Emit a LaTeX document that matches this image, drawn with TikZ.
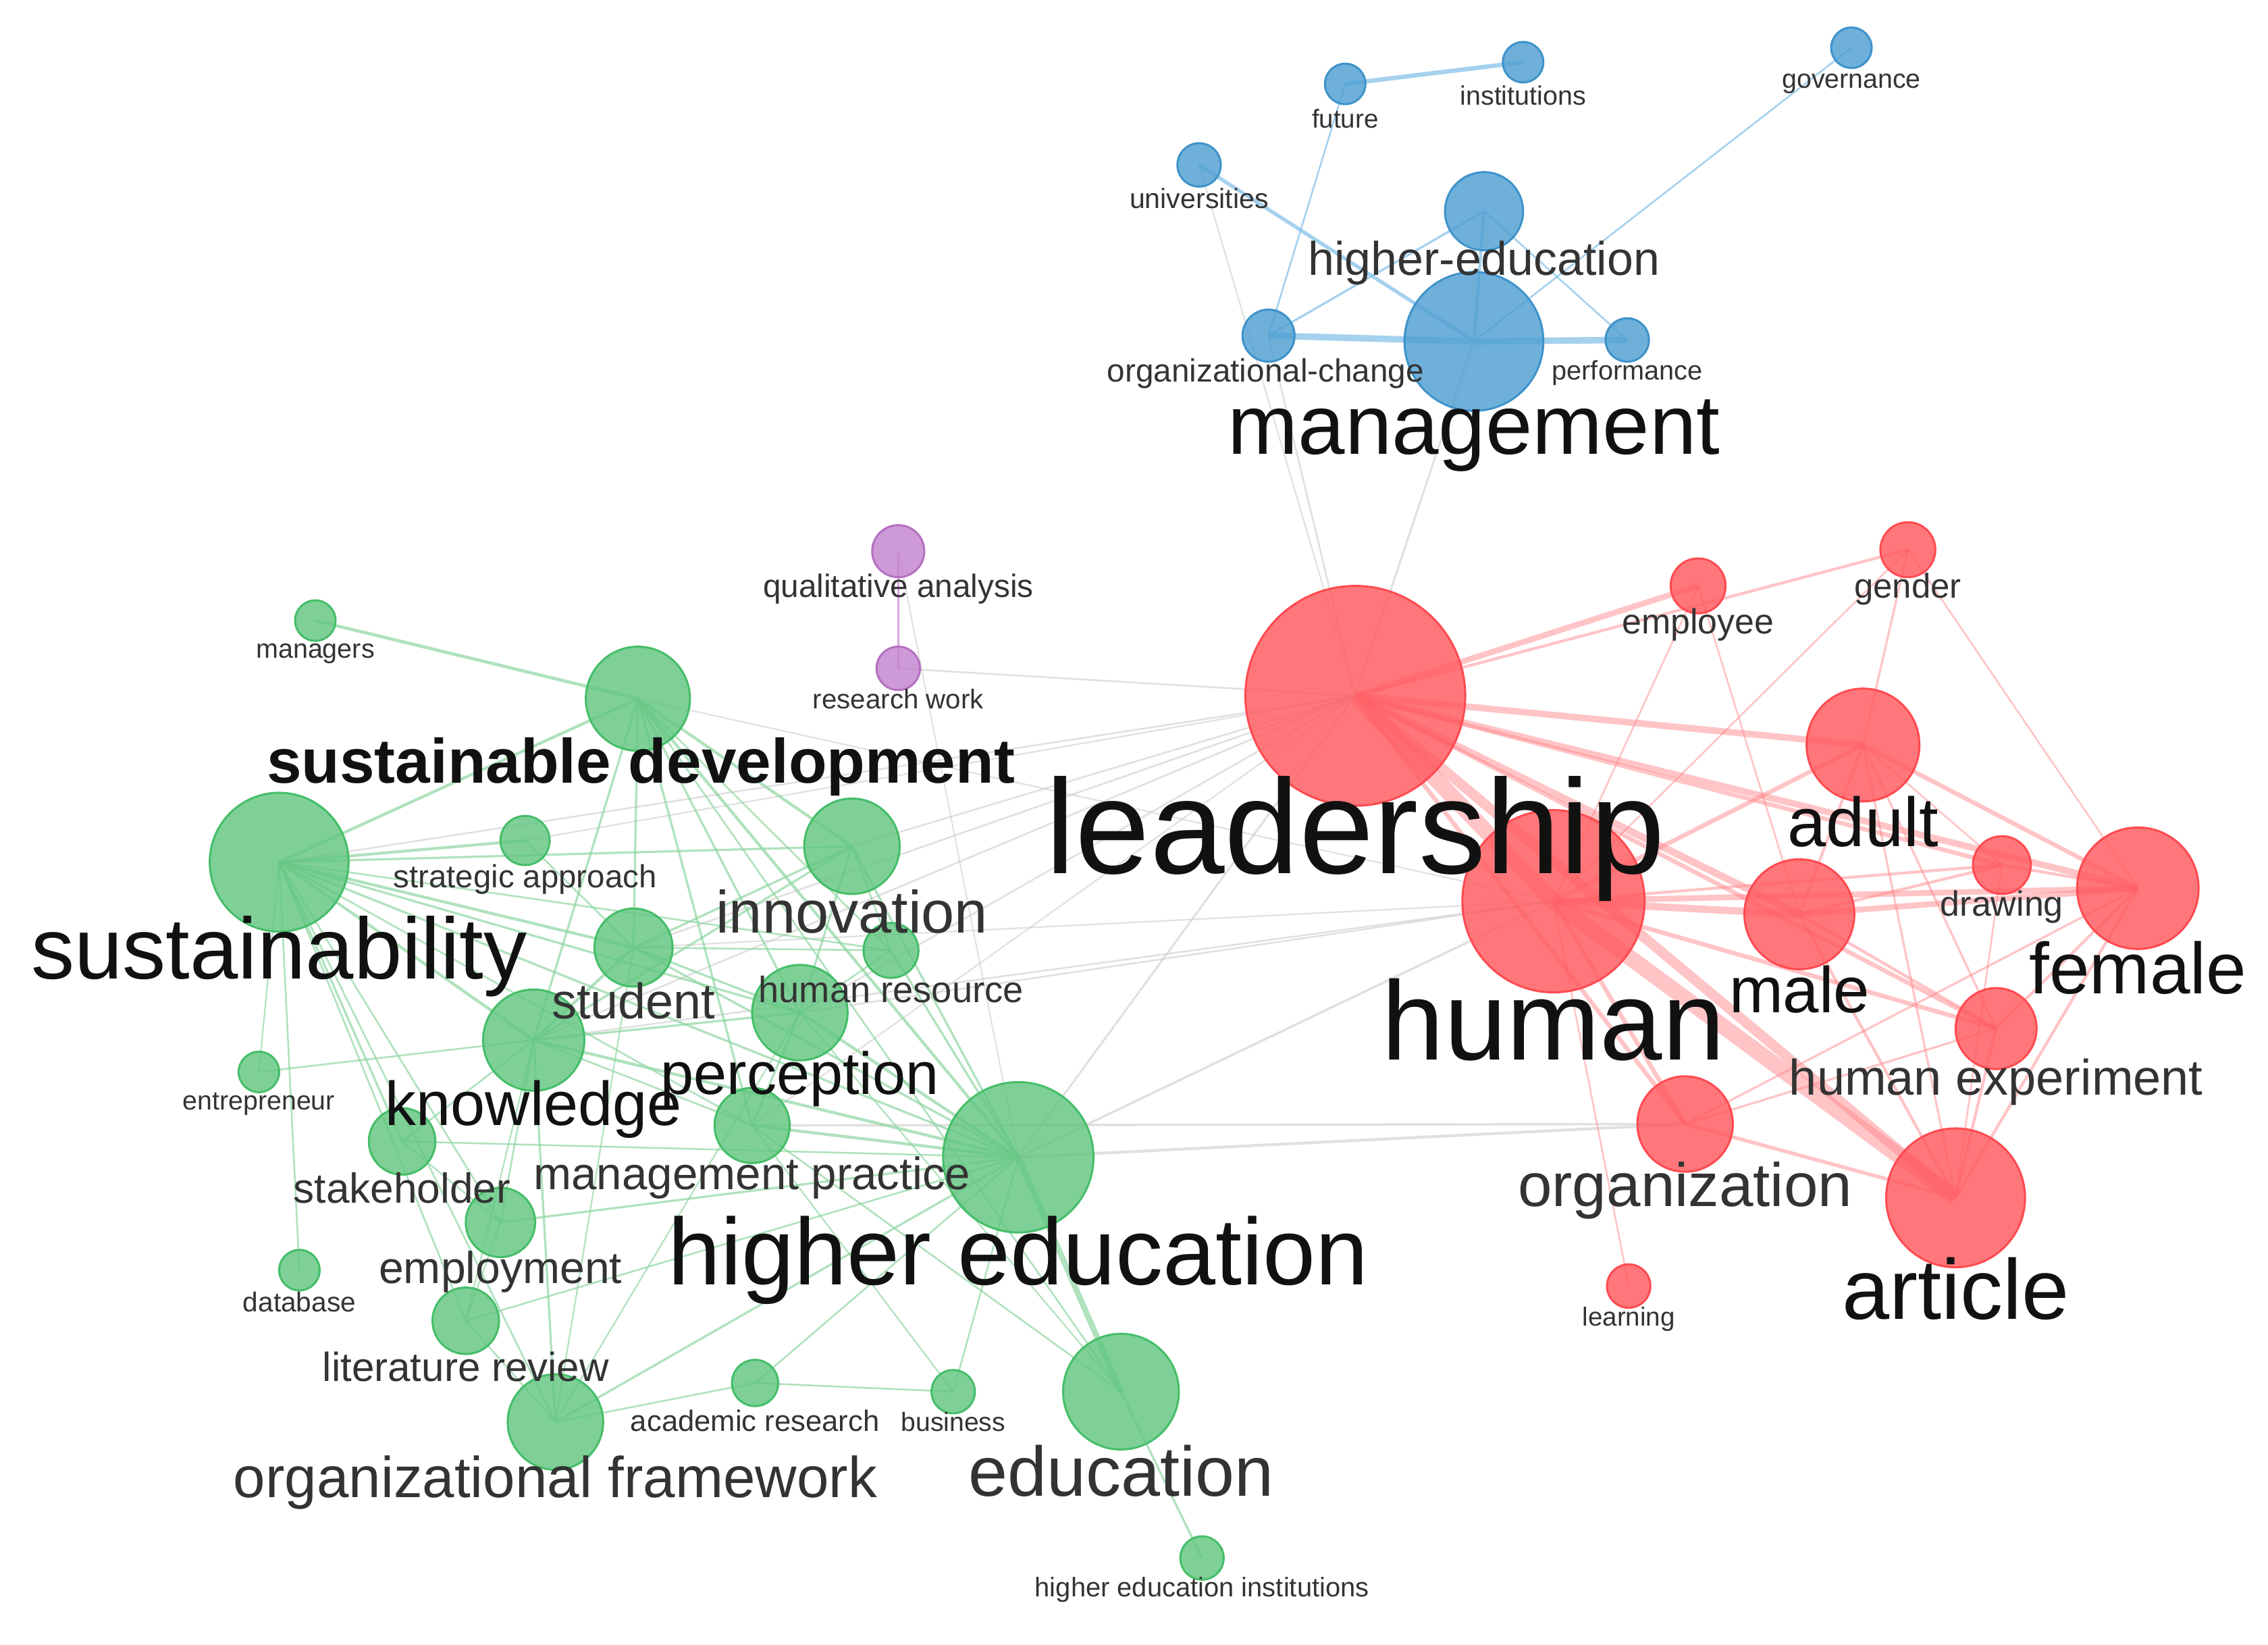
\documentclass[tikz,border=0pt]{standalone}
\usepackage{fontspec}
\usepackage{graphicx}
\setmainfont{Liberation Sans}
\usetikzlibrary{backgrounds}
\definecolor{gfill}{HTML}{62C681}
\definecolor{gline}{HTML}{45BE68}
\definecolor{rfill}{HTML}{FF5A5F}
\definecolor{rline}{HTML}{FF4A50}
\definecolor{bfill}{HTML}{4F9FD2}
\definecolor{bline}{HTML}{3E92CA}
\definecolor{pfill}{HTML}{C383CE}
\definecolor{pline}{HTML}{B470C0}
\definecolor{gedgec}{HTML}{8ED6A2}
\definecolor{redgec}{HTML}{FF8A8E}
\definecolor{bedgec}{HTML}{8EC6EA}
\definecolor{xedgec}{HTML}{C8C8C8}
\definecolor{pedgec}{HTML}{D8A6E0}
\definecolor{labdark}{HTML}{111111}
\definecolor{labgray}{HTML}{333333}
\newcommand\lbl[5]{\node[lab,#5] (#1) at (#2) {\resizebox{#3pt}{!}{#4}};}
\begin{document}
\begin{tikzpicture}[x=1pt,y=-1pt,
  kw/.style={circle,inner sep=0pt,minimum size=#1pt,line width=1.4pt,fill opacity=0.82},
  gn/.style={kw=#1,fill=gfill,draw=gline},
  rn/.style={kw=#1,fill=rfill,draw=rline},
  bn/.style={kw=#1,fill=bfill,draw=bline},
  pn/.style={kw=#1,fill=pfill,draw=pline},
  lab/.style={inner sep=0pt,text=labgray},
  big/.style={text=labdark},
  ge/.style={draw=gedgec,line width=#1pt,draw opacity=0.7},
  re/.style={draw=redgec,line width=#1pt,draw opacity=0.5},
  be/.style={draw=bedgec,line width=#1pt,draw opacity=0.8},
  xe/.style={draw=xedgec,line width=#1pt,draw opacity=0.55},
  pe/.style={draw=pedgec,line width=#1pt},
]
\useasboundingbox (0,0) rectangle (1568,1137);
% ---------- nodes: blue ----------
\node[bn=28] (fut) at (930,58) {};
\node[bn=28] (ins) at (1053,43) {};
\node[bn=28] (gov) at (1280,33) {};
\node[bn=30] (uni) at (829,114) {};
\node[bn=54] (hed) at (1026,146) {};
\node[bn=96] (man) at (1019,236) {};
\node[bn=36] (orc) at (877,232) {};
\node[bn=30] (per) at (1125,235) {};
% ---------- purple ----------
\node[pn=36] (qua) at (621,381) {};
\node[pn=30] (res) at (621,462) {};
% ---------- green ----------
\node[gn=28] (mgr) at (218,429) {};
\node[gn=72] (sd) at (441,483) {};
\node[gn=96] (sus) at (193,596) {};
\node[gn=34] (sta) at (363,581) {};
\node[gn=66] (inn) at (589,585) {};
\node[gn=54] (stu) at (438,655) {};
\node[gn=38] (hr) at (616,657) {};
\node[gn=66] (perc) at (553,700) {};
\node[gn=70] (kno) at (369,719) {};
\node[gn=28] (ent) at (179,741) {};
\node[gn=46] (stk) at (278,789) {};
\node[gn=52] (mp) at (520,778) {};
\node[gn=104] (he) at (704,800) {};
\node[gn=48] (emp) at (346,845) {};
\node[gn=28] (db) at (207,878) {};
\node[gn=46] (lr) at (322,913) {};
\node[gn=66] (of) at (384,983) {};
\node[gn=32] (ar) at (522,956) {};
\node[gn=30] (bus) at (659,962) {};
\node[gn=80] (edu) at (775,962) {};
\node[gn=30] (hei) at (831,1077) {};
% ---------- red ----------
\node[rn=152] (lea) at (937,481) {};
\node[rn=38] (emy) at (1174,405) {};
\node[rn=38] (gen) at (1319,380) {};
\node[rn=78] (adu) at (1288,515) {};
\node[rn=40] (dra) at (1384,598) {};
\node[rn=84] (fem) at (1478,614) {};
\node[rn=126] (hum) at (1074,623) {};
\node[rn=76] (mal) at (1244,632) {};
\node[rn=56] (hex) at (1380,711) {};
\node[rn=66] (org) at (1165,777) {};
\node[rn=96] (art) at (1352,828) {};
\node[rn=30] (lrn) at (1126,889) {};
% ---------- edges ----------
\begin{scope}[on background layer]
\fill[white] (0,0) rectangle (1568,1137);
% gray links between clusters
\foreach \a/\b/\w in {uni/lea/1,man/lea/1.4,orc/lea/1.2,res/lea/1.2,qua/he/0.9,
  lea/sus/1.2,lea/sta/1,lea/stu/1.2,lea/kno/1.2,lea/inn/1.2,lea/he/1.4,lea/perc/1.2,lea/mp/1,
  hum/he/1.6,hum/kno/1.2,hum/perc/1.2,hum/stu/1,org/he/2,org/mp/1.6,hum/sd/1}
  \draw[xe=\w] (\a.center) -- (\b.center);
% blue
\foreach \a/\b/\w in {fut/ins/3,fut/orc/1.2,uni/man/2.5,hed/man/2,hed/orc/1.5,orc/man/4.5,
  man/per/4.5,gov/man/1.2,hed/per/1.2}
  \draw[be=\w] (\a.center) -- (\b.center);
% purple
\draw[pe=1.2] (qua.center) -- (res.center);
% green
\foreach \a/\b/\w in {sd/mgr/2.2,sd/sus/2,sd/inn/2,sd/stu/1.5,sd/perc/1.5,sd/he/2,sd/kno/1.5,
  sd/mp/1.5,sd/hr/1.2,sd/edu/1.2,
  sus/sta/2,sus/stu/2,sus/kno/2,sus/stk/1.5,sus/db/1.2,sus/he/1.5,sus/perc/1.5,sus/emp/1.2,
  sus/lr/1.2,sus/hr/1.2,sus/inn/1.5,sus/ent/1,sus/mp/1.2,sus/of/1.2,
  kno/he/2,kno/of/1.5,kno/stu/2,kno/perc/1.5,kno/ent/1.2,kno/stk/1.2,kno/inn/1.5,kno/mp/1.2,
  kno/emp/1.2,kno/lr/1,
  stu/inn/1.5,stu/perc/1.5,stu/he/1.5,stu/hr/1.2,sta/stu/1.2,
  inn/perc/1.5,inn/he/1.5,inn/hr/1.2,
  perc/he/2,perc/mp/1.5,perc/hr/1.2,
  mp/he/2,mp/edu/1.2,he/edu/4,edu/hei/1.5,he/bus/1.2,he/ar/1.2,he/of/1.5,he/emp/1.5,
  he/lr/1.2,he/hr/1.5,he/stk/1.2,
  of/ar/1.2,ar/bus/1.2,of/lr/1.2,of/stu/1,of/perc/1,emp/lr/1,stk/emp/1,edu/perc/1,mp/bus/1}
  \draw[ge=\w] (\a.center) -- (\b.center);
% red
\foreach \a/\b/\w in {lea/emy/4,lea/gen/2,lea/adu/4.5,lea/hum/11,lea/mal/5,lea/fem/4.5,lea/dra/3,
  lea/hex/3,lea/art/7,lea/org/3,
  emy/hum/1.2,emy/mal/1.2,gen/adu/1.5,gen/fem/1.2,gen/hum/1.2,
  adu/fem/3,adu/mal/2,adu/hum/3,adu/art/1.5,adu/hex/1.5,adu/dra/1.2,
  dra/fem/2,dra/mal/2,dra/hum/2,dra/art/1.2,
  fem/hum/4,fem/mal/4,fem/art/2,fem/hex/2,fem/org/1.5,
  hum/mal/5,hum/art/11,hum/org/3,hum/hex/3,hum/lrn/1.2,
  mal/art/2,mal/hex/2,org/art/2.5,hex/art/2,org/hex/1.5}
  \draw[re=\w] (\a.center) -- (\b.center);
\end{scope}
% ---------- labels ----------
\lbl{l-fut}{930,82}{46}{future}{}
\lbl{l-ins}{1053,66}{87}{institutions}{}
\lbl{l-gov}{1280,58}{96}{governance}{}
\lbl{l-uni}{829,137}{96}{universities}{}
\lbl{l-hed}{1026,182}{243}{higher-education}{}
\lbl{l-orc}{875,258}{219}{organizational-change}{}
\lbl{l-per}{1125,258}{104}{performance}{}
\lbl{l-man}{1019,301}{340}{management}{big}
\lbl{l-qua}{621,407}{187}{qualitative analysis}{}
\lbl{l-res}{621,483}{118}{research work}{}
\lbl{l-mgr}{218,452}{82}{managers}{}
\lbl{l-sd}{443,530}{517}{\bfseries sustainable development}{big}
\lbl{l-sus}{193,661}{343}{sustainability}{big}
\lbl{l-sta}{363,608}{182}{strategic approach}{}
\lbl{l-inn}{589,630}{188}{innovation}{}
\lbl{l-stu}{438,692}{113}{student}{}
\lbl{l-hr}{616,684}{183}{human resource}{}
\lbl{l-perc}{553,746}{192}{perception}{big}
\lbl{l-kno}{369,767}{205}{knowledge}{big}
\lbl{l-ent}{179,763}{105}{entrepreneur}{}
\lbl{l-stk}{278,821}{150}{stakeholder}{}
\lbl{l-mp}{520,814}{302}{management practice}{}
\lbl{l-he}{704,871}{484}{higher education}{big}
\lbl{l-emp}{346,879}{168}{employment}{}
\lbl{l-db}{207,900}{78}{database}{}
\lbl{l-lr}{322,945}{198}{literature review}{}
\lbl{l-of}{384,1025}{445}{organizational framework}{}
\lbl{l-ar}{522,982}{172}{academic research}{}
\lbl{l-bus}{659,983}{72}{business}{}
\lbl{l-edu}{775,1017}{211}{education}{}
\lbl{l-hei}{831,1099}{231}{higher education institutions}{}
\lbl{l-lea}{937,580}{428}{leadership}{big}
\lbl{l-emy}{1174,432}{105}{employee}{}
\lbl{l-gen}{1319,407}{74}{gender}{}
\lbl{l-adu}{1288,568}{104}{adult}{big}
\lbl{l-dra}{1384,627}{85}{drawing}{}
\lbl{l-fem}{1478,669}{150}{female}{big}
\lbl{l-hum}{1074,705}{237}{human}{big}
\lbl{l-mal}{1244,684}{97}{male}{big}
\lbl{l-hex}{1380,748}{286}{human experiment}{}
\lbl{l-org}{1165,823}{231}{organization}{}
\lbl{l-art}{1352,891}{157}{article}{big}
\lbl{l-lrn}{1126,912}{64}{learning}{}
\end{tikzpicture}
\end{document}
